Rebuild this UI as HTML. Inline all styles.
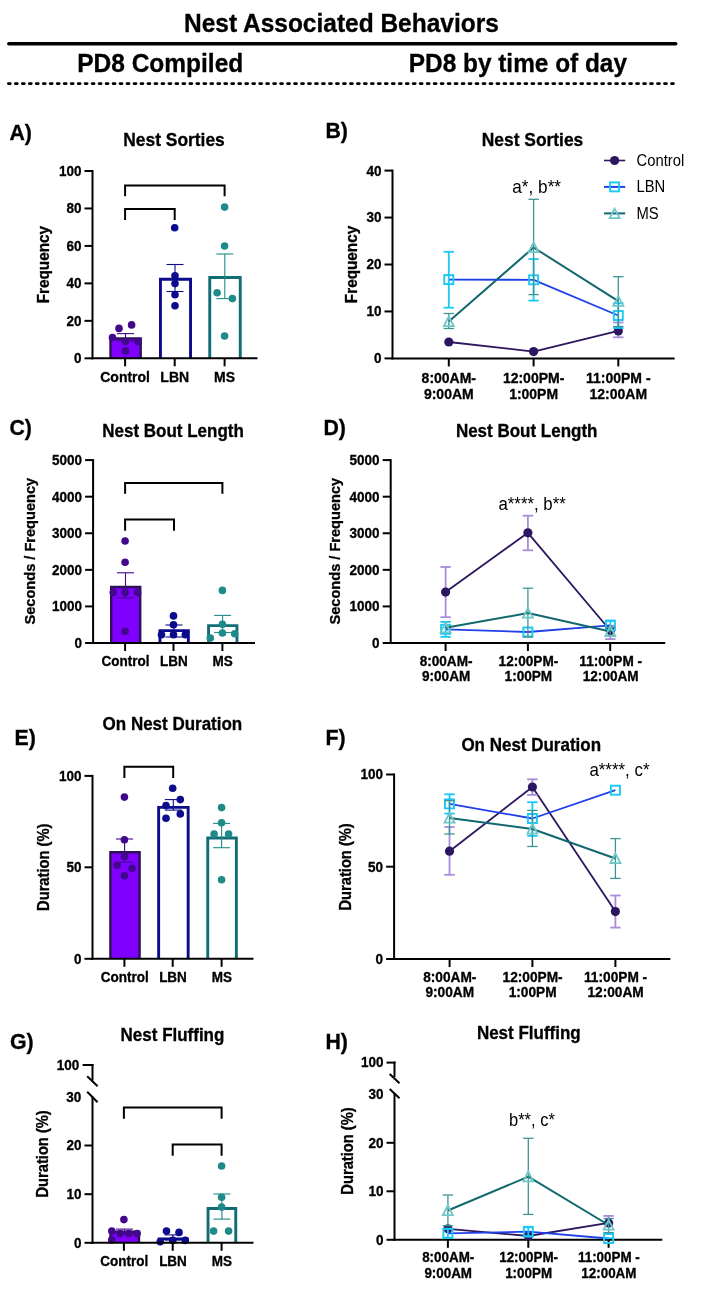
<!DOCTYPE html><html><head><meta charset="utf-8"><style>html,body{margin:0;padding:0;background:#fff;width:718px;height:1294px;overflow:hidden}svg{display:block;will-change:transform}text{font-family:"Liberation Sans",sans-serif}.b{stroke:#000;stroke-width:0.3px}</style></head><body>
<svg width="718" height="1294" viewBox="0 0 718 1294">
<rect width="718" height="1294" fill="#fff"/>
<text class="b" transform="translate(184,31.8) scale(1,1.06)" font-size="24.5" font-weight="bold" text-anchor="start" fill="#000" >Nest Associated Behaviors</text>
<line x1="8.8" y1="43.8" x2="675.7" y2="43.8" stroke="#000" stroke-width="3.5" stroke-linecap="round"/>
<text class="b" transform="translate(77.2,72.1) scale(1,1.06)" font-size="24.5" font-weight="bold" text-anchor="start" fill="#000" >PD8 Compiled</text>
<text class="b" transform="translate(408.8,72.1) scale(1,1.06)" font-size="24.4" font-weight="bold" text-anchor="start" fill="#000" >PD8 by time of day</text>
<line x1="8.3" y1="83.6" x2="676" y2="83.6" stroke="#000" stroke-width="2.6" stroke-linecap="round" stroke-dasharray="2.1 4.88"/>
<text class="b" transform="translate(9.4,139.7) scale(1,1.06)" font-size="21.3" font-weight="bold" text-anchor="start" fill="#000" >A)</text>
<text class="b" transform="translate(325.40000000000003,138) scale(1,1.06)" font-size="21.3" font-weight="bold" text-anchor="start" fill="#000" >B)</text>
<text class="b" transform="translate(9.399999999999999,434.7) scale(1,1.06)" font-size="21.3" font-weight="bold" text-anchor="start" fill="#000" >C)</text>
<text class="b" transform="translate(323.40000000000003,434.5) scale(1,1.06)" font-size="21.3" font-weight="bold" text-anchor="start" fill="#000" >D)</text>
<text class="b" transform="translate(14.5,745.4) scale(1,1.06)" font-size="21.3" font-weight="bold" text-anchor="start" fill="#000" >E)</text>
<text class="b" transform="translate(325.40000000000003,745.4) scale(1,1.06)" font-size="21.3" font-weight="bold" text-anchor="start" fill="#000" >F)</text>
<text class="b" transform="translate(10.0,1049.4) scale(1,1.06)" font-size="21.3" font-weight="bold" text-anchor="start" fill="#000" >G)</text>
<text class="b" transform="translate(325.40000000000003,1049.2) scale(1,1.06)" font-size="21.3" font-weight="bold" text-anchor="start" fill="#000" >H)</text>
<text class="b" transform="translate(123.3,146.4) scale(1,1.06)" font-size="17.4" font-weight="bold" text-anchor="start" fill="#000" >Nest Sorties</text>
<text class="b" transform="translate(481.8,145.8) scale(1,1.06)" font-size="17.4" font-weight="bold" text-anchor="start" fill="#000" >Nest Sorties</text>
<text class="b" transform="translate(102.3,436.8) scale(1,1.06)" font-size="17" font-weight="bold" text-anchor="start" fill="#000" >Nest Bout Length</text>
<text class="b" transform="translate(455.90000000000003,436.8) scale(1,1.06)" font-size="17" font-weight="bold" text-anchor="start" fill="#000" >Nest Bout Length</text>
<text class="b" transform="translate(102.6,730) scale(1,1.06)" font-size="17" font-weight="bold" text-anchor="start" fill="#000" >On Nest Duration</text>
<text class="b" transform="translate(461.40000000000003,751.2) scale(1,1.06)" font-size="17" font-weight="bold" text-anchor="start" fill="#000" >On Nest Duration</text>
<text class="b" transform="translate(120.6,1040.5) scale(1,1.06)" font-size="17" font-weight="bold" text-anchor="start" fill="#000" >Nest Fluffing</text>
<text class="b" transform="translate(476.90000000000003,1038.5) scale(1,1.06)" font-size="17" font-weight="bold" text-anchor="start" fill="#000" >Nest Fluffing</text>
<text class="b" transform="translate(48.6,264.6) rotate(-90) scale(1,1.06)" font-size="15.3" font-weight="bold" text-anchor="middle">Frequency</text>
<text class="b" transform="translate(357.1,264.5) rotate(-90) scale(1,1.06)" font-size="15.3" font-weight="bold" text-anchor="middle">Frequency</text>
<text class="b" transform="translate(35,551.2) rotate(-90) scale(1,1.06)" font-size="14.6" font-weight="bold" text-anchor="middle">Seconds / Frequency</text>
<text class="b" transform="translate(340,551.2) rotate(-90) scale(1,1.06)" font-size="14.6" font-weight="bold" text-anchor="middle">Seconds / Frequency</text>
<text class="b" transform="translate(49,867.3) rotate(-90) scale(1,1.06)" font-size="14.7" font-weight="bold" text-anchor="middle">Duration (%)</text>
<text class="b" transform="translate(351.4,866.9) rotate(-90) scale(1,1.06)" font-size="14.7" font-weight="bold" text-anchor="middle">Duration (%)</text>
<text class="b" transform="translate(48,1153.9) rotate(-90) scale(1,1.06)" font-size="14.7" font-weight="bold" text-anchor="middle">Duration (%)</text>
<text class="b" transform="translate(352.9,1151) rotate(-90) scale(1,1.06)" font-size="14.7" font-weight="bold" text-anchor="middle">Duration (%)</text>
<rect x="110.5" y="338.5" width="30.20000000000001" height="19.8" fill="#7F00FF"/>
<polyline points="110.5,358.3 110.5,338.5 140.70000000000002,338.5 140.70000000000002,358.3" fill="none" stroke="#2E1258" stroke-width="2.4" stroke-linejoin="miter"/>
<polyline points="160.45,358.3 160.45,279.25 190.55,279.25 190.55,358.3" fill="none" stroke="#0B0B8C" stroke-width="2.9" stroke-linejoin="miter"/>
<polyline points="209.75,358.3 209.75,277.45 240.25,277.45 240.25,358.3" fill="none" stroke="#106D75" stroke-width="2.9" stroke-linejoin="miter"/>
<line x1="125.5" y1="333.6" x2="125.5" y2="340.9" stroke="#42078A" stroke-width="1.1" stroke-linecap="butt"/>
<line x1="117.0" y1="333.6" x2="134.0" y2="333.6" stroke="#42078A" stroke-width="1.1" stroke-linecap="butt"/>
<line x1="117.0" y1="340.9" x2="134.0" y2="340.9" stroke="#42078A" stroke-width="1.1" stroke-linecap="butt"/>
<line x1="175" y1="264.5" x2="175" y2="291.5" stroke="#0B0B8C" stroke-width="1.1" stroke-linecap="butt"/>
<line x1="166.5" y1="264.5" x2="183.5" y2="264.5" stroke="#0B0B8C" stroke-width="1.1" stroke-linecap="butt"/>
<line x1="166.5" y1="291.5" x2="183.5" y2="291.5" stroke="#0B0B8C" stroke-width="1.1" stroke-linecap="butt"/>
<line x1="224.8" y1="254" x2="224.8" y2="298.6" stroke="#1E8A89" stroke-width="1.1" stroke-linecap="butt"/>
<line x1="216.3" y1="254" x2="233.3" y2="254" stroke="#1E8A89" stroke-width="1.1" stroke-linecap="butt"/>
<line x1="216.3" y1="298.6" x2="233.3" y2="298.6" stroke="#1E8A89" stroke-width="1.1" stroke-linecap="butt"/>
<circle cx="119.0" cy="328.4" r="3.8" fill="#42078A"/>
<circle cx="131.6" cy="324.9" r="3.8" fill="#42078A"/>
<circle cx="112.5" cy="337.6" r="3.8" fill="#42078A"/>
<circle cx="125.5" cy="341.6" r="3.8" fill="#42078A"/>
<circle cx="138" cy="341.6" r="3.8" fill="#42078A"/>
<circle cx="125.5" cy="350.9" r="3.8" fill="#42078A"/>
<circle cx="174.7" cy="227.7" r="3.8" fill="#0B0B8C"/>
<circle cx="175" cy="275.8" r="3.8" fill="#0B0B8C"/>
<circle cx="175" cy="283.6" r="3.8" fill="#0B0B8C"/>
<circle cx="175" cy="294.8" r="3.8" fill="#0B0B8C"/>
<circle cx="175" cy="305.7" r="3.8" fill="#0B0B8C"/>
<circle cx="224.6" cy="207.1" r="3.8" fill="#1E8A89"/>
<circle cx="224.6" cy="246" r="3.8" fill="#1E8A89"/>
<circle cx="217.1" cy="292.8" r="3.8" fill="#1E8A89"/>
<circle cx="232.4" cy="298.6" r="3.8" fill="#1E8A89"/>
<circle cx="224.6" cy="336" r="3.8" fill="#1E8A89"/>
<line x1="92.5" y1="170" x2="92.5" y2="359.3" stroke="#000" stroke-width="2" stroke-linecap="butt"/>
<line x1="84.5" y1="358.3" x2="92.5" y2="358.3" stroke="#000" stroke-width="2" stroke-linecap="butt"/>
<text class="b" transform="translate(81.4,363.2) scale(1,1.06)" font-size="13.5" font-weight="bold" text-anchor="end" fill="#000" >0</text>
<line x1="84.5" y1="320.84000000000003" x2="92.5" y2="320.84000000000003" stroke="#000" stroke-width="2" stroke-linecap="butt"/>
<text class="b" transform="translate(81.4,325.74) scale(1,1.06)" font-size="13.5" font-weight="bold" text-anchor="end" fill="#000" >20</text>
<line x1="84.5" y1="283.38" x2="92.5" y2="283.38" stroke="#000" stroke-width="2" stroke-linecap="butt"/>
<text class="b" transform="translate(81.4,288.28) scale(1,1.06)" font-size="13.5" font-weight="bold" text-anchor="end" fill="#000" >40</text>
<line x1="84.5" y1="245.92000000000002" x2="92.5" y2="245.92000000000002" stroke="#000" stroke-width="2" stroke-linecap="butt"/>
<text class="b" transform="translate(81.4,250.82000000000002) scale(1,1.06)" font-size="13.5" font-weight="bold" text-anchor="end" fill="#000" >60</text>
<line x1="84.5" y1="208.46" x2="92.5" y2="208.46" stroke="#000" stroke-width="2" stroke-linecap="butt"/>
<text class="b" transform="translate(81.4,213.36) scale(1,1.06)" font-size="13.5" font-weight="bold" text-anchor="end" fill="#000" >80</text>
<line x1="84.5" y1="171.0" x2="92.5" y2="171.0" stroke="#000" stroke-width="2" stroke-linecap="butt"/>
<text class="b" transform="translate(81.4,175.9) scale(1,1.06)" font-size="13.5" font-weight="bold" text-anchor="end" fill="#000" >100</text>
<line x1="91.5" y1="358.3" x2="257.5" y2="358.3" stroke="#000" stroke-width="2" stroke-linecap="butt"/>
<line x1="125.1" y1="358.3" x2="125.1" y2="366.3" stroke="#000" stroke-width="2" stroke-linecap="butt"/>
<line x1="174.7" y1="358.3" x2="174.7" y2="366.3" stroke="#000" stroke-width="2" stroke-linecap="butt"/>
<line x1="224.6" y1="358.3" x2="224.6" y2="366.3" stroke="#000" stroke-width="2" stroke-linecap="butt"/>
<text class="b" transform="translate(125.1,382.2) scale(1,1.06)" font-size="14" font-weight="bold" text-anchor="middle" fill="#000" >Control</text>
<text class="b" transform="translate(174.7,382.2) scale(1,1.06)" font-size="14" font-weight="bold" text-anchor="middle" fill="#000" >LBN</text>
<text class="b" transform="translate(224.6,382.2) scale(1,1.06)" font-size="14" font-weight="bold" text-anchor="middle" fill="#000" >MS</text>
<polyline points="125.1,196.3 125.1,185.5 224.6,185.5 224.6,196.3" fill="none" stroke="#000" stroke-width="2" stroke-linejoin="miter"/>
<polyline points="125.1,220.1 125.1,208.9 174.7,208.9 174.7,220.1" fill="none" stroke="#000" stroke-width="2" stroke-linejoin="miter"/>
<rect x="111.2" y="587.0" width="29.000000000000007" height="56.00000000000004" fill="#7F00FF"/>
<polyline points="111.2,643 111.2,587.0 140.20000000000002,587.0 140.20000000000002,643" fill="none" stroke="#2E1258" stroke-width="2.4" stroke-linejoin="miter"/>
<polyline points="159.95,643 159.95,630.6500000000001 188.35000000000002,630.6500000000001 188.35000000000002,643" fill="none" stroke="#0B0B8C" stroke-width="2.9" stroke-linejoin="miter"/>
<polyline points="208.54999999999998,643 208.54999999999998,625.6500000000001 236.95000000000002,625.6500000000001 236.95000000000002,643" fill="none" stroke="#106D75" stroke-width="2.9" stroke-linejoin="miter"/>
<line x1="125.5" y1="572.8" x2="125.5" y2="597.9" stroke="#42078A" stroke-width="1.1" stroke-linecap="butt"/>
<line x1="117.0" y1="572.8" x2="134.0" y2="572.8" stroke="#42078A" stroke-width="1.1" stroke-linecap="butt"/>
<line x1="117.0" y1="597.9" x2="134.0" y2="597.9" stroke="#42078A" stroke-width="1.1" stroke-linecap="butt"/>
<line x1="174" y1="625" x2="174" y2="637" stroke="#0B0B8C" stroke-width="1.1" stroke-linecap="butt"/>
<line x1="165.5" y1="625" x2="182.5" y2="625" stroke="#0B0B8C" stroke-width="1.1" stroke-linecap="butt"/>
<line x1="165.5" y1="637" x2="182.5" y2="637" stroke="#0B0B8C" stroke-width="1.1" stroke-linecap="butt"/>
<line x1="222.6" y1="615.4" x2="222.6" y2="632.5" stroke="#1E8A89" stroke-width="1.1" stroke-linecap="butt"/>
<line x1="214.1" y1="615.4" x2="231.1" y2="615.4" stroke="#1E8A89" stroke-width="1.1" stroke-linecap="butt"/>
<line x1="214.1" y1="632.5" x2="231.1" y2="632.5" stroke="#1E8A89" stroke-width="1.1" stroke-linecap="butt"/>
<circle cx="125.1" cy="541" r="3.8" fill="#42078A"/>
<circle cx="125.1" cy="562.3" r="3.8" fill="#42078A"/>
<circle cx="113.3" cy="592.4" r="3.8" fill="#42078A"/>
<circle cx="125.1" cy="592.4" r="3.8" fill="#42078A"/>
<circle cx="137.6" cy="592.4" r="3.8" fill="#42078A"/>
<circle cx="125.1" cy="631.2" r="3.8" fill="#42078A"/>
<circle cx="173.5" cy="615.9" r="3.8" fill="#0B0B8C"/>
<circle cx="173.5" cy="624.7" r="3.8" fill="#0B0B8C"/>
<circle cx="161.5" cy="634.7" r="3.8" fill="#0B0B8C"/>
<circle cx="173.5" cy="634.7" r="3.8" fill="#0B0B8C"/>
<circle cx="185.3" cy="634.7" r="3.8" fill="#0B0B8C"/>
<circle cx="222.4" cy="590.4" r="3.8" fill="#1E8A89"/>
<circle cx="222.4" cy="624.2" r="3.8" fill="#1E8A89"/>
<circle cx="210.3" cy="638" r="3.8" fill="#1E8A89"/>
<circle cx="222.4" cy="633" r="3.8" fill="#1E8A89"/>
<circle cx="234.7" cy="633.7" r="3.8" fill="#1E8A89"/>
<line x1="93.1" y1="459.1" x2="93.1" y2="644" stroke="#000" stroke-width="2" stroke-linecap="butt"/>
<line x1="85.1" y1="643.0" x2="93.1" y2="643.0" stroke="#000" stroke-width="2" stroke-linecap="butt"/>
<text class="b" transform="translate(82.0,647.9) scale(1,1.06)" font-size="13.5" font-weight="bold" text-anchor="end" fill="#000" >0</text>
<line x1="85.1" y1="606.42" x2="93.1" y2="606.42" stroke="#000" stroke-width="2" stroke-linecap="butt"/>
<text class="b" transform="translate(82.0,611.3199999999999) scale(1,1.06)" font-size="13.5" font-weight="bold" text-anchor="end" fill="#000" >1000</text>
<line x1="85.1" y1="569.84" x2="93.1" y2="569.84" stroke="#000" stroke-width="2" stroke-linecap="butt"/>
<text class="b" transform="translate(82.0,574.74) scale(1,1.06)" font-size="13.5" font-weight="bold" text-anchor="end" fill="#000" >2000</text>
<line x1="85.1" y1="533.26" x2="93.1" y2="533.26" stroke="#000" stroke-width="2" stroke-linecap="butt"/>
<text class="b" transform="translate(82.0,538.16) scale(1,1.06)" font-size="13.5" font-weight="bold" text-anchor="end" fill="#000" >3000</text>
<line x1="85.1" y1="496.68" x2="93.1" y2="496.68" stroke="#000" stroke-width="2" stroke-linecap="butt"/>
<text class="b" transform="translate(82.0,501.58) scale(1,1.06)" font-size="13.5" font-weight="bold" text-anchor="end" fill="#000" >4000</text>
<line x1="85.1" y1="460.1" x2="93.1" y2="460.1" stroke="#000" stroke-width="2" stroke-linecap="butt"/>
<text class="b" transform="translate(82.0,465.0) scale(1,1.06)" font-size="13.5" font-weight="bold" text-anchor="end" fill="#000" >5000</text>
<line x1="92.1" y1="643" x2="255" y2="643" stroke="#000" stroke-width="2" stroke-linecap="butt"/>
<line x1="125.1" y1="643" x2="125.1" y2="651" stroke="#000" stroke-width="2" stroke-linecap="butt"/>
<line x1="173.5" y1="643" x2="173.5" y2="651" stroke="#000" stroke-width="2" stroke-linecap="butt"/>
<line x1="222.4" y1="643" x2="222.4" y2="651" stroke="#000" stroke-width="2" stroke-linecap="butt"/>
<text class="b" transform="translate(125.39999999999999,666) scale(1,1.06)" font-size="13.5" font-weight="bold" text-anchor="middle" fill="#000" >Control</text>
<text class="b" transform="translate(173.8,666) scale(1,1.06)" font-size="13.5" font-weight="bold" text-anchor="middle" fill="#000" >LBN</text>
<text class="b" transform="translate(222.70000000000002,666) scale(1,1.06)" font-size="13.5" font-weight="bold" text-anchor="middle" fill="#000" >MS</text>
<polyline points="125.1,493.8 125.1,483.1 222.4,483.1 222.4,493.8" fill="none" stroke="#000" stroke-width="2" stroke-linejoin="miter"/>
<polyline points="125.1,530.7 125.1,519.4 174,519.4 174,530.7" fill="none" stroke="#000" stroke-width="2" stroke-linejoin="miter"/>
<rect x="110.4" y="852.2" width="29.20000000000001" height="106.59999999999995" fill="#7F00FF"/>
<polyline points="110.4,958.8 110.4,852.2 139.60000000000002,852.2 139.60000000000002,958.8" fill="none" stroke="#2E1258" stroke-width="2.4" stroke-linejoin="miter"/>
<polyline points="158.64999999999998,958.8 158.64999999999998,807.35 188.15,807.35 188.15,958.8" fill="none" stroke="#0B0B8C" stroke-width="2.9" stroke-linejoin="miter"/>
<polyline points="207.75,958.8 207.75,837.95 236.35000000000002,837.95 236.35000000000002,958.8" fill="none" stroke="#106D75" stroke-width="2.9" stroke-linejoin="miter"/>
<line x1="124.6" y1="839" x2="124.6" y2="862.3" stroke="#42078A" stroke-width="1.1" stroke-linecap="butt"/>
<line x1="116.1" y1="839" x2="133.1" y2="839" stroke="#42078A" stroke-width="1.1" stroke-linecap="butt"/>
<line x1="116.1" y1="862.3" x2="133.1" y2="862.3" stroke="#42078A" stroke-width="1.1" stroke-linecap="butt"/>
<line x1="173.3" y1="799.6" x2="173.3" y2="810.1" stroke="#0B0B8C" stroke-width="1.1" stroke-linecap="butt"/>
<line x1="164.8" y1="799.6" x2="181.8" y2="799.6" stroke="#0B0B8C" stroke-width="1.1" stroke-linecap="butt"/>
<line x1="164.8" y1="810.1" x2="181.8" y2="810.1" stroke="#0B0B8C" stroke-width="1.1" stroke-linecap="butt"/>
<line x1="221.6" y1="823.4" x2="221.6" y2="847.7" stroke="#1E8A89" stroke-width="1.1" stroke-linecap="butt"/>
<line x1="213.1" y1="823.4" x2="230.1" y2="823.4" stroke="#1E8A89" stroke-width="1.1" stroke-linecap="butt"/>
<line x1="213.1" y1="847.7" x2="230.1" y2="847.7" stroke="#1E8A89" stroke-width="1.1" stroke-linecap="butt"/>
<circle cx="124.4" cy="797.1" r="3.8" fill="#42078A"/>
<circle cx="124.4" cy="839.7" r="3.8" fill="#42078A"/>
<circle cx="124.4" cy="856.5" r="3.8" fill="#42078A"/>
<circle cx="117.1" cy="865.3" r="3.8" fill="#42078A"/>
<circle cx="132.1" cy="868.3" r="3.8" fill="#42078A"/>
<circle cx="124.4" cy="875.8" r="3.8" fill="#42078A"/>
<circle cx="172.7" cy="788.3" r="3.8" fill="#0B0B8C"/>
<circle cx="166" cy="805.6" r="3.8" fill="#0B0B8C"/>
<circle cx="180.3" cy="799.6" r="3.8" fill="#0B0B8C"/>
<circle cx="166" cy="818.2" r="3.8" fill="#0B0B8C"/>
<circle cx="180.3" cy="813.9" r="3.8" fill="#0B0B8C"/>
<circle cx="221.6" cy="807.6" r="3.8" fill="#1E8A89"/>
<circle cx="221.6" cy="822.7" r="3.8" fill="#1E8A89"/>
<circle cx="214.1" cy="834" r="3.8" fill="#1E8A89"/>
<circle cx="228.6" cy="834" r="3.8" fill="#1E8A89"/>
<circle cx="221.6" cy="879.8" r="3.8" fill="#1E8A89"/>
<line x1="92.5" y1="774.9" x2="92.5" y2="959.8" stroke="#000" stroke-width="2" stroke-linecap="butt"/>
<line x1="84.5" y1="958.8" x2="92.5" y2="958.8" stroke="#000" stroke-width="2" stroke-linecap="butt"/>
<text class="b" transform="translate(81.4,963.6999999999999) scale(1,1.06)" font-size="13.5" font-weight="bold" text-anchor="end" fill="#000" >0</text>
<line x1="84.5" y1="867.3" x2="92.5" y2="867.3" stroke="#000" stroke-width="2" stroke-linecap="butt"/>
<text class="b" transform="translate(81.4,872.1999999999999) scale(1,1.06)" font-size="13.5" font-weight="bold" text-anchor="end" fill="#000" >50</text>
<line x1="84.5" y1="775.9" x2="92.5" y2="775.9" stroke="#000" stroke-width="2" stroke-linecap="butt"/>
<text class="b" transform="translate(81.4,780.8) scale(1,1.06)" font-size="13.5" font-weight="bold" text-anchor="end" fill="#000" >100</text>
<line x1="91.5" y1="958.8" x2="253.5" y2="958.8" stroke="#000" stroke-width="2" stroke-linecap="butt"/>
<line x1="124.4" y1="958.8" x2="124.4" y2="966.8" stroke="#000" stroke-width="2" stroke-linecap="butt"/>
<line x1="172.7" y1="958.8" x2="172.7" y2="966.8" stroke="#000" stroke-width="2" stroke-linecap="butt"/>
<line x1="221.6" y1="958.8" x2="221.6" y2="966.8" stroke="#000" stroke-width="2" stroke-linecap="butt"/>
<text class="b" transform="translate(124.7,981.8) scale(1,1.06)" font-size="13.5" font-weight="bold" text-anchor="middle" fill="#000" >Control</text>
<text class="b" transform="translate(173.0,981.8) scale(1,1.06)" font-size="13.5" font-weight="bold" text-anchor="middle" fill="#000" >LBN</text>
<text class="b" transform="translate(221.9,981.8) scale(1,1.06)" font-size="13.5" font-weight="bold" text-anchor="middle" fill="#000" >MS</text>
<polyline points="124.4,778 124.4,766.8 173.2,766.8 173.2,778" fill="none" stroke="#000" stroke-width="2" stroke-linejoin="miter"/>
<rect x="110.5" y="1231.6000000000001" width="28.499999999999993" height="11.199999999999864" fill="#7F00FF"/>
<polyline points="110.5,1242.8 110.5,1231.6000000000001 139.0,1231.6000000000001 139.0,1242.8" fill="none" stroke="#2E1258" stroke-width="2.4" stroke-linejoin="miter"/>
<polyline points="159.14999999999998,1242.8 159.14999999999998,1238.8500000000001 187.05,1238.8500000000001 187.05,1242.8" fill="none" stroke="#0B0B8C" stroke-width="2.9" stroke-linejoin="miter"/>
<polyline points="208.04999999999998,1242.8 208.04999999999998,1208.55 235.75,1208.55 235.75,1242.8" fill="none" stroke="#106D75" stroke-width="2.9" stroke-linejoin="miter"/>
<line x1="124.5" y1="1229.1" x2="124.5" y2="1234" stroke="#42078A" stroke-width="1.1" stroke-linecap="butt"/>
<line x1="116.0" y1="1229.1" x2="133.0" y2="1229.1" stroke="#42078A" stroke-width="1.1" stroke-linecap="butt"/>
<line x1="116.0" y1="1234" x2="133.0" y2="1234" stroke="#42078A" stroke-width="1.1" stroke-linecap="butt"/>
<line x1="173" y1="1234.9" x2="173" y2="1240" stroke="#0B0B8C" stroke-width="1.1" stroke-linecap="butt"/>
<line x1="164.5" y1="1234.9" x2="181.5" y2="1234.9" stroke="#0B0B8C" stroke-width="1.1" stroke-linecap="butt"/>
<line x1="164.5" y1="1240" x2="181.5" y2="1240" stroke="#0B0B8C" stroke-width="1.1" stroke-linecap="butt"/>
<line x1="221.9" y1="1194" x2="221.9" y2="1219.1" stroke="#1E8A89" stroke-width="1.1" stroke-linecap="butt"/>
<line x1="213.4" y1="1194" x2="230.4" y2="1194" stroke="#1E8A89" stroke-width="1.1" stroke-linecap="butt"/>
<line x1="213.4" y1="1219.1" x2="230.4" y2="1219.1" stroke="#1E8A89" stroke-width="1.1" stroke-linecap="butt"/>
<circle cx="123.9" cy="1219.6" r="3.8" fill="#42078A"/>
<circle cx="111.8" cy="1231.1" r="3.8" fill="#42078A"/>
<circle cx="120.1" cy="1233.6" r="3.8" fill="#42078A"/>
<circle cx="128.9" cy="1233.6" r="3.8" fill="#42078A"/>
<circle cx="137.1" cy="1233.6" r="3.8" fill="#42078A"/>
<circle cx="111.8" cy="1239.9" r="3.8" fill="#42078A"/>
<circle cx="166.5" cy="1231.1" r="3.8" fill="#0B0B8C"/>
<circle cx="179" cy="1232.4" r="3.8" fill="#0B0B8C"/>
<circle cx="160.2" cy="1241.7" r="3.8" fill="#0B0B8C"/>
<circle cx="172.7" cy="1240.4" r="3.8" fill="#0B0B8C"/>
<circle cx="185.3" cy="1240.4" r="3.8" fill="#0B0B8C"/>
<circle cx="221.6" cy="1166" r="3.8" fill="#1E8A89"/>
<circle cx="221.6" cy="1197.3" r="3.8" fill="#1E8A89"/>
<circle cx="221.6" cy="1207.1" r="3.8" fill="#1E8A89"/>
<circle cx="213.6" cy="1231.1" r="3.8" fill="#1E8A89"/>
<circle cx="228.6" cy="1231.1" r="3.8" fill="#1E8A89"/>
<line x1="92.5" y1="1096.6" x2="92.5" y2="1243.8" stroke="#000" stroke-width="2" stroke-linecap="butt"/>
<line x1="84.5" y1="1242.8" x2="92.5" y2="1242.8" stroke="#000" stroke-width="2" stroke-linecap="butt"/>
<text class="b" transform="translate(81.4,1247.7) scale(1,1.06)" font-size="13.5" font-weight="bold" text-anchor="end" fill="#000" >0</text>
<line x1="84.5" y1="1194.2" x2="92.5" y2="1194.2" stroke="#000" stroke-width="2" stroke-linecap="butt"/>
<text class="b" transform="translate(81.4,1199.1000000000001) scale(1,1.06)" font-size="13.5" font-weight="bold" text-anchor="end" fill="#000" >10</text>
<line x1="84.5" y1="1145.5" x2="92.5" y2="1145.5" stroke="#000" stroke-width="2" stroke-linecap="butt"/>
<text class="b" transform="translate(81.4,1150.4) scale(1,1.06)" font-size="13.5" font-weight="bold" text-anchor="end" fill="#000" >20</text>
<line x1="91.5" y1="1242.8" x2="253.5" y2="1242.8" stroke="#000" stroke-width="2" stroke-linecap="butt"/>
<line x1="123.9" y1="1242.8" x2="123.9" y2="1250.8" stroke="#000" stroke-width="2" stroke-linecap="butt"/>
<line x1="172.7" y1="1242.8" x2="172.7" y2="1250.8" stroke="#000" stroke-width="2" stroke-linecap="butt"/>
<line x1="221.6" y1="1242.8" x2="221.6" y2="1250.8" stroke="#000" stroke-width="2" stroke-linecap="butt"/>
<text class="b" transform="translate(124.2,1266) scale(1,1.06)" font-size="13.5" font-weight="bold" text-anchor="middle" fill="#000" >Control</text>
<text class="b" transform="translate(173.0,1266) scale(1,1.06)" font-size="13.5" font-weight="bold" text-anchor="middle" fill="#000" >LBN</text>
<text class="b" transform="translate(221.9,1266) scale(1,1.06)" font-size="13.5" font-weight="bold" text-anchor="middle" fill="#000" >MS</text>
<polyline points="123.9,1118.8 123.9,1107.5 221.6,1107.5 221.6,1118.8" fill="none" stroke="#000" stroke-width="2" stroke-linejoin="miter"/>
<polyline points="172.7,1155.7 172.7,1144.4 221.6,1144.4 221.6,1155.7" fill="none" stroke="#000" stroke-width="2" stroke-linejoin="miter"/>
<line x1="92.5" y1="1064.1" x2="92.5" y2="1080.5" stroke="#000" stroke-width="2" stroke-linecap="butt"/>
<line x1="82.6" y1="1065" x2="93.5" y2="1065" stroke="#000" stroke-width="2" stroke-linecap="butt"/>
<text class="b" transform="translate(79.2,1070.2) scale(1,1.06)" font-size="13.5" font-weight="bold" text-anchor="end" fill="#000" >100</text>
<text class="b" transform="translate(81.3,1102.4) scale(1,1.06)" font-size="13.5" font-weight="bold" text-anchor="end" fill="#000" >30</text>
<line x1="87.2" y1="1076.3" x2="97.6" y2="1086.3" stroke="#000" stroke-width="2" stroke-linecap="butt"/>
<line x1="87.2" y1="1091.8" x2="97.6" y2="1102.2" stroke="#000" stroke-width="2" stroke-linecap="butt"/>
<line x1="392.5" y1="169.6" x2="392.5" y2="359.4" stroke="#000" stroke-width="2" stroke-linecap="butt"/>
<line x1="384.5" y1="358.4" x2="392.5" y2="358.4" stroke="#000" stroke-width="2" stroke-linecap="butt"/>
<text class="b" transform="translate(381.4,363.29999999999995) scale(1,1.06)" font-size="13.5" font-weight="bold" text-anchor="end" fill="#000" >0</text>
<line x1="384.5" y1="311.45" x2="392.5" y2="311.45" stroke="#000" stroke-width="2" stroke-linecap="butt"/>
<text class="b" transform="translate(381.4,316.34999999999997) scale(1,1.06)" font-size="13.5" font-weight="bold" text-anchor="end" fill="#000" >10</text>
<line x1="384.5" y1="264.5" x2="392.5" y2="264.5" stroke="#000" stroke-width="2" stroke-linecap="butt"/>
<text class="b" transform="translate(381.4,269.4) scale(1,1.06)" font-size="13.5" font-weight="bold" text-anchor="end" fill="#000" >20</text>
<line x1="384.5" y1="217.54999999999995" x2="392.5" y2="217.54999999999995" stroke="#000" stroke-width="2" stroke-linecap="butt"/>
<text class="b" transform="translate(381.4,222.44999999999996) scale(1,1.06)" font-size="13.5" font-weight="bold" text-anchor="end" fill="#000" >30</text>
<line x1="384.5" y1="170.59999999999997" x2="392.5" y2="170.59999999999997" stroke="#000" stroke-width="2" stroke-linecap="butt"/>
<text class="b" transform="translate(381.4,175.49999999999997) scale(1,1.06)" font-size="13.5" font-weight="bold" text-anchor="end" fill="#000" >40</text>
<line x1="391.5" y1="358.4" x2="674.6" y2="358.4" stroke="#000" stroke-width="2" stroke-linecap="butt"/>
<line x1="448.8" y1="358.4" x2="448.8" y2="366.4" stroke="#000" stroke-width="2" stroke-linecap="butt"/>
<line x1="533.6" y1="358.4" x2="533.6" y2="366.4" stroke="#000" stroke-width="2" stroke-linecap="butt"/>
<line x1="618.3" y1="358.4" x2="618.3" y2="366.4" stroke="#000" stroke-width="2" stroke-linecap="butt"/>
<text class="b" transform="translate(448.8,382.6) scale(1,1.06)" font-size="14" font-weight="bold" text-anchor="middle" fill="#000" >8:00AM-</text>
<text class="b" transform="translate(448.8,398.6) scale(1,1.06)" font-size="14" font-weight="bold" text-anchor="middle" fill="#000" >9:00AM</text>
<text class="b" transform="translate(533.6,382.6) scale(1,1.06)" font-size="14" font-weight="bold" text-anchor="middle" fill="#000" >12:00PM-</text>
<text class="b" transform="translate(533.6,398.6) scale(1,1.06)" font-size="14" font-weight="bold" text-anchor="middle" fill="#000" >1:00PM</text>
<text class="b" transform="translate(618.3,382.6) scale(1,1.06)" font-size="14" font-weight="bold" text-anchor="middle" fill="#000" >11:00PM -</text>
<text class="b" transform="translate(618.3,398.6) scale(1,1.06)" font-size="14" font-weight="bold" text-anchor="middle" fill="#000" >12:00AM</text>
<polyline points="448.8,342 533.6,351.6 618.3,330.9" fill="none" stroke="#2D1660" stroke-width="1.8" stroke-linejoin="round"/>
<line x1="618.3" y1="322.5" x2="618.3" y2="330.9" stroke="#A88BD9" stroke-width="1.8" stroke-linecap="butt"/>
<line x1="613.0999999999999" y1="322.5" x2="623.5" y2="322.5" stroke="#A88BD9" stroke-width="1.8" stroke-linecap="butt"/>
<line x1="618.3" y1="330.9" x2="618.3" y2="337.3" stroke="#A88BD9" stroke-width="1.8" stroke-linecap="butt"/>
<line x1="613.0999999999999" y1="337.3" x2="623.5" y2="337.3" stroke="#A88BD9" stroke-width="1.8" stroke-linecap="butt"/>
<circle cx="448.8" cy="342" r="4.6" fill="#2D1660"/>
<circle cx="533.6" cy="351.6" r="4.6" fill="#2D1660"/>
<circle cx="618.3" cy="330.9" r="4.6" fill="#2D1660"/>
<polyline points="448.8,279.6 533.6,279.8 618.3,315.5" fill="none" stroke="#1F40E8" stroke-width="1.8" stroke-linejoin="round"/>
<line x1="448.8" y1="251.8" x2="448.8" y2="279.6" stroke="#1AC8F6" stroke-width="1.8" stroke-linecap="butt"/>
<line x1="443.6" y1="251.8" x2="454.0" y2="251.8" stroke="#1AC8F6" stroke-width="1.8" stroke-linecap="butt"/>
<line x1="448.8" y1="279.6" x2="448.8" y2="307.7" stroke="#1AC8F6" stroke-width="1.8" stroke-linecap="butt"/>
<line x1="443.6" y1="307.7" x2="454.0" y2="307.7" stroke="#1AC8F6" stroke-width="1.8" stroke-linecap="butt"/>
<line x1="533.6" y1="259.1" x2="533.6" y2="279.8" stroke="#1AC8F6" stroke-width="1.8" stroke-linecap="butt"/>
<line x1="528.4" y1="259.1" x2="538.8000000000001" y2="259.1" stroke="#1AC8F6" stroke-width="1.8" stroke-linecap="butt"/>
<line x1="533.6" y1="279.8" x2="533.6" y2="300.6" stroke="#1AC8F6" stroke-width="1.8" stroke-linecap="butt"/>
<line x1="528.4" y1="300.6" x2="538.8000000000001" y2="300.6" stroke="#1AC8F6" stroke-width="1.8" stroke-linecap="butt"/>
<line x1="618.3" y1="303.2" x2="618.3" y2="315.5" stroke="#1AC8F6" stroke-width="1.8" stroke-linecap="butt"/>
<line x1="613.0999999999999" y1="303.2" x2="623.5" y2="303.2" stroke="#1AC8F6" stroke-width="1.8" stroke-linecap="butt"/>
<line x1="618.3" y1="315.5" x2="618.3" y2="328" stroke="#1AC8F6" stroke-width="1.8" stroke-linecap="butt"/>
<line x1="613.0999999999999" y1="328" x2="623.5" y2="328" stroke="#1AC8F6" stroke-width="1.8" stroke-linecap="butt"/>
<rect x="444.3" y="275.1" width="9.0" height="9.0" fill="none" stroke="#1AC8F6" stroke-width="1.9"/>
<rect x="529.1" y="275.3" width="9.0" height="9.0" fill="none" stroke="#1AC8F6" stroke-width="1.9"/>
<rect x="613.8" y="311.0" width="9.0" height="9.0" fill="none" stroke="#1AC8F6" stroke-width="1.9"/>
<polyline points="448.8,321.5 533.6,247.5 618.3,301.2" fill="none" stroke="#12686F" stroke-width="2" stroke-linejoin="round"/>
<line x1="448.8" y1="313.5" x2="448.8" y2="321.5" stroke="#3E9494" stroke-width="1.3" stroke-linecap="butt"/>
<line x1="443.6" y1="313.5" x2="454.0" y2="313.5" stroke="#3E9494" stroke-width="1.3" stroke-linecap="butt"/>
<line x1="448.8" y1="321.5" x2="448.8" y2="328.5" stroke="#3E9494" stroke-width="1.3" stroke-linecap="butt"/>
<line x1="443.6" y1="328.5" x2="454.0" y2="328.5" stroke="#3E9494" stroke-width="1.3" stroke-linecap="butt"/>
<line x1="533.6" y1="199.3" x2="533.6" y2="247.5" stroke="#3E9494" stroke-width="1.3" stroke-linecap="butt"/>
<line x1="528.4" y1="199.3" x2="538.8000000000001" y2="199.3" stroke="#3E9494" stroke-width="1.3" stroke-linecap="butt"/>
<line x1="533.6" y1="247.5" x2="533.6" y2="294.6" stroke="#3E9494" stroke-width="1.3" stroke-linecap="butt"/>
<line x1="528.4" y1="294.6" x2="538.8000000000001" y2="294.6" stroke="#3E9494" stroke-width="1.3" stroke-linecap="butt"/>
<line x1="618.3" y1="276.7" x2="618.3" y2="301.2" stroke="#3E9494" stroke-width="1.3" stroke-linecap="butt"/>
<line x1="613.0999999999999" y1="276.7" x2="623.5" y2="276.7" stroke="#3E9494" stroke-width="1.3" stroke-linecap="butt"/>
<line x1="618.3" y1="301.2" x2="618.3" y2="326.5" stroke="#3E9494" stroke-width="1.3" stroke-linecap="butt"/>
<line x1="613.0999999999999" y1="326.5" x2="623.5" y2="326.5" stroke="#3E9494" stroke-width="1.3" stroke-linecap="butt"/>
<polygon points="448.8,316.5 443.8,326.1 453.8,326.1" fill="none" stroke="#6EC6C6" stroke-width="1.8" stroke-linejoin="miter"/>
<polygon points="533.6,242.5 528.6,252.1 538.6,252.1" fill="none" stroke="#6EC6C6" stroke-width="1.8" stroke-linejoin="miter"/>
<polygon points="618.3,296.2 613.3,305.8 623.3,305.8" fill="none" stroke="#6EC6C6" stroke-width="1.8" stroke-linejoin="miter"/>
<text transform="translate(512.3,193.4) scale(1,1.06)" font-size="17.2" font-weight="normal" text-anchor="start" fill="#000" >a*, b**</text>
<line x1="604" y1="160.5" x2="625.2" y2="160.5" stroke="#2D1660" stroke-width="1.6" stroke-linecap="butt"/>
<circle cx="614.6" cy="160.5" r="4.6" fill="#2D1660"/>
<line x1="604" y1="186.9" x2="625.2" y2="186.9" stroke="#1F40E8" stroke-width="2" stroke-linecap="butt"/>
<rect x="610.1" y="182.4" width="9.0" height="9.0" fill="none" stroke="#1AC8F6" stroke-width="1.9"/>
<line x1="604" y1="213.4" x2="625.2" y2="213.4" stroke="#12686F" stroke-width="2" stroke-linecap="butt"/>
<polygon points="614.6,208.6 609.6,218.2 619.6,218.2" fill="none" stroke="#6EC6C6" stroke-width="1.8" stroke-linejoin="miter"/>
<text transform="translate(636.5,165.8) scale(1,1.06)" font-size="14.8" font-weight="normal" text-anchor="start" fill="#000" >Control</text>
<text transform="translate(636.5,192.1) scale(1,1.06)" font-size="14.8" font-weight="normal" text-anchor="start" fill="#000" >LBN</text>
<text transform="translate(636.5,218.5) scale(1,1.06)" font-size="14.8" font-weight="normal" text-anchor="start" fill="#000" >MS</text>
<line x1="390.7" y1="459.1" x2="390.7" y2="644" stroke="#000" stroke-width="2" stroke-linecap="butt"/>
<line x1="382.7" y1="643.0" x2="390.7" y2="643.0" stroke="#000" stroke-width="2" stroke-linecap="butt"/>
<text class="b" transform="translate(379.59999999999997,647.9) scale(1,1.06)" font-size="13.5" font-weight="bold" text-anchor="end" fill="#000" >0</text>
<line x1="382.7" y1="606.42" x2="390.7" y2="606.42" stroke="#000" stroke-width="2" stroke-linecap="butt"/>
<text class="b" transform="translate(379.59999999999997,611.3199999999999) scale(1,1.06)" font-size="13.5" font-weight="bold" text-anchor="end" fill="#000" >1000</text>
<line x1="382.7" y1="569.84" x2="390.7" y2="569.84" stroke="#000" stroke-width="2" stroke-linecap="butt"/>
<text class="b" transform="translate(379.59999999999997,574.74) scale(1,1.06)" font-size="13.5" font-weight="bold" text-anchor="end" fill="#000" >2000</text>
<line x1="382.7" y1="533.26" x2="390.7" y2="533.26" stroke="#000" stroke-width="2" stroke-linecap="butt"/>
<text class="b" transform="translate(379.59999999999997,538.16) scale(1,1.06)" font-size="13.5" font-weight="bold" text-anchor="end" fill="#000" >3000</text>
<line x1="382.7" y1="496.68" x2="390.7" y2="496.68" stroke="#000" stroke-width="2" stroke-linecap="butt"/>
<text class="b" transform="translate(379.59999999999997,501.58) scale(1,1.06)" font-size="13.5" font-weight="bold" text-anchor="end" fill="#000" >4000</text>
<line x1="382.7" y1="460.1" x2="390.7" y2="460.1" stroke="#000" stroke-width="2" stroke-linecap="butt"/>
<text class="b" transform="translate(379.59999999999997,465.0) scale(1,1.06)" font-size="13.5" font-weight="bold" text-anchor="end" fill="#000" >5000</text>
<line x1="389.7" y1="643" x2="665.2" y2="643" stroke="#000" stroke-width="2" stroke-linecap="butt"/>
<line x1="445.6" y1="643" x2="445.6" y2="651" stroke="#000" stroke-width="2" stroke-linecap="butt"/>
<line x1="527.9" y1="643" x2="527.9" y2="651" stroke="#000" stroke-width="2" stroke-linecap="butt"/>
<line x1="610.2" y1="643" x2="610.2" y2="651" stroke="#000" stroke-width="2" stroke-linecap="butt"/>
<text class="b" transform="translate(446.1,666) scale(1,1.06)" font-size="13.6" font-weight="bold" text-anchor="middle" fill="#000" >8:00AM-</text>
<text class="b" transform="translate(446.1,681.3) scale(1,1.06)" font-size="13.6" font-weight="bold" text-anchor="middle" fill="#000" >9:00AM</text>
<text class="b" transform="translate(528.4,666) scale(1,1.06)" font-size="13.6" font-weight="bold" text-anchor="middle" fill="#000" >12:00PM-</text>
<text class="b" transform="translate(528.4,681.3) scale(1,1.06)" font-size="13.6" font-weight="bold" text-anchor="middle" fill="#000" >1:00PM</text>
<text class="b" transform="translate(610.7,666) scale(1,1.06)" font-size="13.6" font-weight="bold" text-anchor="middle" fill="#000" >11:00PM -</text>
<text class="b" transform="translate(610.7,681.3) scale(1,1.06)" font-size="13.6" font-weight="bold" text-anchor="middle" fill="#000" >12:00AM</text>
<polyline points="445.6,592.1 527.9,532.8 610.3,630.5" fill="none" stroke="#2D1660" stroke-width="1.8" stroke-linejoin="round"/>
<line x1="445.6" y1="567" x2="445.6" y2="592.1" stroke="#A88BD9" stroke-width="1.8" stroke-linecap="butt"/>
<line x1="440.40000000000003" y1="567" x2="450.8" y2="567" stroke="#A88BD9" stroke-width="1.8" stroke-linecap="butt"/>
<line x1="445.6" y1="592.1" x2="445.6" y2="617.2" stroke="#A88BD9" stroke-width="1.8" stroke-linecap="butt"/>
<line x1="440.40000000000003" y1="617.2" x2="450.8" y2="617.2" stroke="#A88BD9" stroke-width="1.8" stroke-linecap="butt"/>
<line x1="527.9" y1="515.7" x2="527.9" y2="532.8" stroke="#A88BD9" stroke-width="1.8" stroke-linecap="butt"/>
<line x1="522.6999999999999" y1="515.7" x2="533.1" y2="515.7" stroke="#A88BD9" stroke-width="1.8" stroke-linecap="butt"/>
<line x1="527.9" y1="532.8" x2="527.9" y2="550.3" stroke="#A88BD9" stroke-width="1.8" stroke-linecap="butt"/>
<line x1="522.6999999999999" y1="550.3" x2="533.1" y2="550.3" stroke="#A88BD9" stroke-width="1.8" stroke-linecap="butt"/>
<line x1="610.3" y1="625.7" x2="610.3" y2="630.5" stroke="#A88BD9" stroke-width="1.8" stroke-linecap="butt"/>
<line x1="605.0999999999999" y1="625.7" x2="615.5" y2="625.7" stroke="#A88BD9" stroke-width="1.8" stroke-linecap="butt"/>
<line x1="610.3" y1="630.5" x2="610.3" y2="639.1" stroke="#A88BD9" stroke-width="1.8" stroke-linecap="butt"/>
<line x1="605.0999999999999" y1="639.1" x2="615.5" y2="639.1" stroke="#A88BD9" stroke-width="1.8" stroke-linecap="butt"/>
<circle cx="445.6" cy="592.1" r="4.6" fill="#2D1660"/>
<circle cx="527.9" cy="532.8" r="4.6" fill="#2D1660"/>
<circle cx="610.3" cy="630.5" r="4.6" fill="#2D1660"/>
<polyline points="445.6,629.3 527.9,632 610.4,625.4" fill="none" stroke="#1F40E8" stroke-width="1.8" stroke-linejoin="round"/>
<line x1="445.6" y1="621.9" x2="445.6" y2="629.3" stroke="#1AC8F6" stroke-width="1.8" stroke-linecap="butt"/>
<line x1="440.40000000000003" y1="621.9" x2="450.8" y2="621.9" stroke="#1AC8F6" stroke-width="1.8" stroke-linecap="butt"/>
<line x1="445.6" y1="629.3" x2="445.6" y2="636.9" stroke="#1AC8F6" stroke-width="1.8" stroke-linecap="butt"/>
<line x1="440.40000000000003" y1="636.9" x2="450.8" y2="636.9" stroke="#1AC8F6" stroke-width="1.8" stroke-linecap="butt"/>
<line x1="610.4" y1="620.5" x2="610.4" y2="625.4" stroke="#1AC8F6" stroke-width="1.8" stroke-linecap="butt"/>
<line x1="605.1999999999999" y1="620.5" x2="615.6" y2="620.5" stroke="#1AC8F6" stroke-width="1.8" stroke-linecap="butt"/>
<line x1="610.4" y1="625.4" x2="610.4" y2="630.2" stroke="#1AC8F6" stroke-width="1.8" stroke-linecap="butt"/>
<line x1="605.1999999999999" y1="630.2" x2="615.6" y2="630.2" stroke="#1AC8F6" stroke-width="1.8" stroke-linecap="butt"/>
<rect x="441.1" y="624.8" width="9.0" height="9.0" fill="none" stroke="#1AC8F6" stroke-width="1.9"/>
<rect x="523.4" y="627.5" width="9.0" height="9.0" fill="none" stroke="#1AC8F6" stroke-width="1.9"/>
<rect x="605.9" y="620.9" width="9.0" height="9.0" fill="none" stroke="#1AC8F6" stroke-width="1.9"/>
<polyline points="445.6,627.8 527.9,613.1 610.3,631.5" fill="none" stroke="#12686F" stroke-width="2" stroke-linejoin="round"/>
<line x1="527.9" y1="588.2" x2="527.9" y2="613.1" stroke="#3E9494" stroke-width="1.3" stroke-linecap="butt"/>
<line x1="522.6999999999999" y1="588.2" x2="533.1" y2="588.2" stroke="#3E9494" stroke-width="1.3" stroke-linecap="butt"/>
<line x1="527.9" y1="613.1" x2="527.9" y2="637" stroke="#3E9494" stroke-width="1.3" stroke-linecap="butt"/>
<line x1="522.6999999999999" y1="637" x2="533.1" y2="637" stroke="#3E9494" stroke-width="1.3" stroke-linecap="butt"/>
<line x1="610.3" y1="627.4" x2="610.3" y2="631.5" stroke="#3E9494" stroke-width="1.3" stroke-linecap="butt"/>
<line x1="605.0999999999999" y1="627.4" x2="615.5" y2="627.4" stroke="#3E9494" stroke-width="1.3" stroke-linecap="butt"/>
<line x1="610.3" y1="631.5" x2="610.3" y2="636" stroke="#3E9494" stroke-width="1.3" stroke-linecap="butt"/>
<line x1="605.0999999999999" y1="636" x2="615.5" y2="636" stroke="#3E9494" stroke-width="1.3" stroke-linecap="butt"/>
<polygon points="445.6,622.8 440.6,632.4 450.6,632.4" fill="none" stroke="#6EC6C6" stroke-width="1.8" stroke-linejoin="miter"/>
<polygon points="527.9,608.1 522.9,617.7 532.9,617.7" fill="none" stroke="#6EC6C6" stroke-width="1.8" stroke-linejoin="miter"/>
<polygon points="610.3,626.5 605.3,636.1 615.3,636.1" fill="none" stroke="#6EC6C6" stroke-width="1.8" stroke-linejoin="miter"/>
<text transform="translate(498.5,510.1) scale(1,1.06)" font-size="16.8" font-weight="normal" text-anchor="start" fill="#000" >a****, b**</text>
<line x1="394.1" y1="773.5" x2="394.1" y2="960" stroke="#000" stroke-width="2" stroke-linecap="butt"/>
<line x1="386.1" y1="959" x2="394.1" y2="959" stroke="#000" stroke-width="2" stroke-linecap="butt"/>
<text class="b" transform="translate(383.0,963.9) scale(1,1.06)" font-size="13.5" font-weight="bold" text-anchor="end" fill="#000" >0</text>
<line x1="386.1" y1="866.7" x2="394.1" y2="866.7" stroke="#000" stroke-width="2" stroke-linecap="butt"/>
<text class="b" transform="translate(383.0,871.6) scale(1,1.06)" font-size="13.5" font-weight="bold" text-anchor="end" fill="#000" >50</text>
<line x1="386.1" y1="774.5" x2="394.1" y2="774.5" stroke="#000" stroke-width="2" stroke-linecap="butt"/>
<text class="b" transform="translate(383.0,779.4) scale(1,1.06)" font-size="13.5" font-weight="bold" text-anchor="end" fill="#000" >100</text>
<line x1="393.1" y1="959" x2="670.3" y2="959" stroke="#000" stroke-width="2" stroke-linecap="butt"/>
<line x1="449.6" y1="959" x2="449.6" y2="967" stroke="#000" stroke-width="2" stroke-linecap="butt"/>
<line x1="532.4" y1="959" x2="532.4" y2="967" stroke="#000" stroke-width="2" stroke-linecap="butt"/>
<line x1="615.4" y1="959" x2="615.4" y2="967" stroke="#000" stroke-width="2" stroke-linecap="butt"/>
<text class="b" transform="translate(449.8,981.6) scale(1,1.06)" font-size="13.7" font-weight="bold" text-anchor="middle" fill="#000" >8:00AM-</text>
<text class="b" transform="translate(449.8,997.2) scale(1,1.06)" font-size="13.7" font-weight="bold" text-anchor="middle" fill="#000" >9:00AM</text>
<text class="b" transform="translate(532.6,981.6) scale(1,1.06)" font-size="13.7" font-weight="bold" text-anchor="middle" fill="#000" >12:00PM-</text>
<text class="b" transform="translate(532.6,997.2) scale(1,1.06)" font-size="13.7" font-weight="bold" text-anchor="middle" fill="#000" >1:00PM</text>
<text class="b" transform="translate(615.6,981.6) scale(1,1.06)" font-size="13.7" font-weight="bold" text-anchor="middle" fill="#000" >11:00PM -</text>
<text class="b" transform="translate(615.6,997.2) scale(1,1.06)" font-size="13.7" font-weight="bold" text-anchor="middle" fill="#000" >12:00AM</text>
<polyline points="449.5,851.2 532.4,787 615.4,911.6" fill="none" stroke="#2D1660" stroke-width="1.8" stroke-linejoin="round"/>
<line x1="449.5" y1="827" x2="449.5" y2="851.2" stroke="#A88BD9" stroke-width="1.8" stroke-linecap="butt"/>
<line x1="444.3" y1="827" x2="454.7" y2="827" stroke="#A88BD9" stroke-width="1.8" stroke-linecap="butt"/>
<line x1="449.5" y1="851.2" x2="449.5" y2="874.8" stroke="#A88BD9" stroke-width="1.8" stroke-linecap="butt"/>
<line x1="444.3" y1="874.8" x2="454.7" y2="874.8" stroke="#A88BD9" stroke-width="1.8" stroke-linecap="butt"/>
<line x1="532.4" y1="779.3" x2="532.4" y2="787" stroke="#A88BD9" stroke-width="1.8" stroke-linecap="butt"/>
<line x1="527.1999999999999" y1="779.3" x2="537.6" y2="779.3" stroke="#A88BD9" stroke-width="1.8" stroke-linecap="butt"/>
<line x1="532.4" y1="787" x2="532.4" y2="794.9" stroke="#A88BD9" stroke-width="1.8" stroke-linecap="butt"/>
<line x1="527.1999999999999" y1="794.9" x2="537.6" y2="794.9" stroke="#A88BD9" stroke-width="1.8" stroke-linecap="butt"/>
<line x1="615.4" y1="895.5" x2="615.4" y2="911.6" stroke="#A88BD9" stroke-width="1.8" stroke-linecap="butt"/>
<line x1="610.1999999999999" y1="895.5" x2="620.6" y2="895.5" stroke="#A88BD9" stroke-width="1.8" stroke-linecap="butt"/>
<line x1="615.4" y1="911.6" x2="615.4" y2="927.6" stroke="#A88BD9" stroke-width="1.8" stroke-linecap="butt"/>
<line x1="610.1999999999999" y1="927.6" x2="620.6" y2="927.6" stroke="#A88BD9" stroke-width="1.8" stroke-linecap="butt"/>
<circle cx="449.5" cy="851.2" r="4.6" fill="#2D1660"/>
<circle cx="532.4" cy="787" r="4.6" fill="#2D1660"/>
<circle cx="615.4" cy="911.6" r="4.6" fill="#2D1660"/>
<polyline points="449.5,803.9 532.4,818.5 615.4,790.2" fill="none" stroke="#1F40E8" stroke-width="1.8" stroke-linejoin="round"/>
<line x1="449.5" y1="794.3" x2="449.5" y2="803.9" stroke="#1AC8F6" stroke-width="1.8" stroke-linecap="butt"/>
<line x1="444.3" y1="794.3" x2="454.7" y2="794.3" stroke="#1AC8F6" stroke-width="1.8" stroke-linecap="butt"/>
<line x1="449.5" y1="803.9" x2="449.5" y2="813.6" stroke="#1AC8F6" stroke-width="1.8" stroke-linecap="butt"/>
<line x1="444.3" y1="813.6" x2="454.7" y2="813.6" stroke="#1AC8F6" stroke-width="1.8" stroke-linecap="butt"/>
<line x1="532.4" y1="802.2" x2="532.4" y2="818.5" stroke="#1AC8F6" stroke-width="1.8" stroke-linecap="butt"/>
<line x1="527.1999999999999" y1="802.2" x2="537.6" y2="802.2" stroke="#1AC8F6" stroke-width="1.8" stroke-linecap="butt"/>
<line x1="532.4" y1="818.5" x2="532.4" y2="835.9" stroke="#1AC8F6" stroke-width="1.8" stroke-linecap="butt"/>
<line x1="527.1999999999999" y1="835.9" x2="537.6" y2="835.9" stroke="#1AC8F6" stroke-width="1.8" stroke-linecap="butt"/>
<rect x="445.0" y="799.4" width="9.0" height="9.0" fill="none" stroke="#1AC8F6" stroke-width="1.9"/>
<rect x="527.9" y="814.0" width="9.0" height="9.0" fill="none" stroke="#1AC8F6" stroke-width="1.9"/>
<rect x="610.9" y="785.7" width="9.0" height="9.0" fill="none" stroke="#1AC8F6" stroke-width="1.9"/>
<polyline points="449.5,818 532.4,829 615.4,858.5" fill="none" stroke="#12686F" stroke-width="2" stroke-linejoin="round"/>
<line x1="449.5" y1="800.6" x2="449.5" y2="818" stroke="#3E9494" stroke-width="1.3" stroke-linecap="butt"/>
<line x1="444.3" y1="800.6" x2="454.7" y2="800.6" stroke="#3E9494" stroke-width="1.3" stroke-linecap="butt"/>
<line x1="449.5" y1="818" x2="449.5" y2="834" stroke="#3E9494" stroke-width="1.3" stroke-linecap="butt"/>
<line x1="444.3" y1="834" x2="454.7" y2="834" stroke="#3E9494" stroke-width="1.3" stroke-linecap="butt"/>
<line x1="532.4" y1="810.4" x2="532.4" y2="829" stroke="#3E9494" stroke-width="1.3" stroke-linecap="butt"/>
<line x1="527.1999999999999" y1="810.4" x2="537.6" y2="810.4" stroke="#3E9494" stroke-width="1.3" stroke-linecap="butt"/>
<line x1="532.4" y1="829" x2="532.4" y2="846.5" stroke="#3E9494" stroke-width="1.3" stroke-linecap="butt"/>
<line x1="527.1999999999999" y1="846.5" x2="537.6" y2="846.5" stroke="#3E9494" stroke-width="1.3" stroke-linecap="butt"/>
<line x1="615.4" y1="838.6" x2="615.4" y2="858.5" stroke="#3E9494" stroke-width="1.3" stroke-linecap="butt"/>
<line x1="610.1999999999999" y1="838.6" x2="620.6" y2="838.6" stroke="#3E9494" stroke-width="1.3" stroke-linecap="butt"/>
<line x1="615.4" y1="858.5" x2="615.4" y2="878.4" stroke="#3E9494" stroke-width="1.3" stroke-linecap="butt"/>
<line x1="610.1999999999999" y1="878.4" x2="620.6" y2="878.4" stroke="#3E9494" stroke-width="1.3" stroke-linecap="butt"/>
<polygon points="449.5,813.0 444.5,822.6 454.5,822.6" fill="none" stroke="#6EC6C6" stroke-width="1.8" stroke-linejoin="miter"/>
<polygon points="532.4,824.0 527.4,833.6 537.4,833.6" fill="none" stroke="#6EC6C6" stroke-width="1.8" stroke-linejoin="miter"/>
<polygon points="615.4,853.5 610.4,863.1 620.4,863.1" fill="none" stroke="#6EC6C6" stroke-width="1.8" stroke-linejoin="miter"/>
<text transform="translate(589.4,775.8) scale(1,1.06)" font-size="16.9" font-weight="normal" text-anchor="start" fill="#000" >a****, c*</text>
<line x1="394.5" y1="1093" x2="394.5" y2="1240.8" stroke="#000" stroke-width="2" stroke-linecap="butt"/>
<line x1="386.5" y1="1239.8" x2="394.5" y2="1239.8" stroke="#000" stroke-width="2" stroke-linecap="butt"/>
<text class="b" transform="translate(383.4,1244.7) scale(1,1.06)" font-size="13.5" font-weight="bold" text-anchor="end" fill="#000" >0</text>
<line x1="386.5" y1="1191.3" x2="394.5" y2="1191.3" stroke="#000" stroke-width="2" stroke-linecap="butt"/>
<text class="b" transform="translate(383.4,1196.2) scale(1,1.06)" font-size="13.5" font-weight="bold" text-anchor="end" fill="#000" >10</text>
<line x1="386.5" y1="1142.8" x2="394.5" y2="1142.8" stroke="#000" stroke-width="2" stroke-linecap="butt"/>
<text class="b" transform="translate(383.4,1147.7) scale(1,1.06)" font-size="13.5" font-weight="bold" text-anchor="end" fill="#000" >20</text>
<line x1="393.5" y1="1239.8" x2="662.3" y2="1239.8" stroke="#000" stroke-width="2" stroke-linecap="butt"/>
<line x1="447.9" y1="1239.8" x2="447.9" y2="1247.8" stroke="#000" stroke-width="2" stroke-linecap="butt"/>
<line x1="528.3" y1="1239.8" x2="528.3" y2="1247.8" stroke="#000" stroke-width="2" stroke-linecap="butt"/>
<line x1="608.6" y1="1239.8" x2="608.6" y2="1247.8" stroke="#000" stroke-width="2" stroke-linecap="butt"/>
<text class="b" transform="translate(448.2,1262.4) scale(1,1.06)" font-size="13.4" font-weight="bold" text-anchor="middle" fill="#000" >8:00AM-</text>
<text class="b" transform="translate(448.2,1277.8) scale(1,1.06)" font-size="13.4" font-weight="bold" text-anchor="middle" fill="#000" >9:00AM</text>
<text class="b" transform="translate(528.5999999999999,1262.4) scale(1,1.06)" font-size="13.4" font-weight="bold" text-anchor="middle" fill="#000" >12:00PM-</text>
<text class="b" transform="translate(528.5999999999999,1277.8) scale(1,1.06)" font-size="13.4" font-weight="bold" text-anchor="middle" fill="#000" >1:00PM</text>
<text class="b" transform="translate(608.9,1262.4) scale(1,1.06)" font-size="13.4" font-weight="bold" text-anchor="middle" fill="#000" >11:00PM -</text>
<text class="b" transform="translate(608.9,1277.8) scale(1,1.06)" font-size="13.4" font-weight="bold" text-anchor="middle" fill="#000" >12:00AM</text>
<polyline points="447.9,1228.8 528.3,1236 608.6,1222.9" fill="none" stroke="#2D1660" stroke-width="1.8" stroke-linejoin="round"/>
<line x1="608.6" y1="1215.9" x2="608.6" y2="1222.9" stroke="#A88BD9" stroke-width="1.8" stroke-linecap="butt"/>
<line x1="603.4" y1="1215.9" x2="613.8000000000001" y2="1215.9" stroke="#A88BD9" stroke-width="1.8" stroke-linecap="butt"/>
<circle cx="447.9" cy="1228.8" r="4.6" fill="#2D1660"/>
<circle cx="528.3" cy="1236" r="4.6" fill="#2D1660"/>
<circle cx="608.6" cy="1222.9" r="4.6" fill="#2D1660"/>
<polyline points="447.9,1233.3 528.3,1231.7 608.6,1238.5" fill="none" stroke="#1F40E8" stroke-width="1.8" stroke-linejoin="round"/>
<line x1="447.9" y1="1228.8" x2="447.9" y2="1233.3" stroke="#1AC8F6" stroke-width="1.8" stroke-linecap="butt"/>
<line x1="442.7" y1="1228.8" x2="453.09999999999997" y2="1228.8" stroke="#1AC8F6" stroke-width="1.8" stroke-linecap="butt"/>
<line x1="447.9" y1="1233.3" x2="447.9" y2="1237.8" stroke="#1AC8F6" stroke-width="1.8" stroke-linecap="butt"/>
<line x1="442.7" y1="1237.8" x2="453.09999999999997" y2="1237.8" stroke="#1AC8F6" stroke-width="1.8" stroke-linecap="butt"/>
<line x1="528.3" y1="1226.8" x2="528.3" y2="1231.7" stroke="#1AC8F6" stroke-width="1.8" stroke-linecap="butt"/>
<line x1="523.0999999999999" y1="1226.8" x2="533.5" y2="1226.8" stroke="#1AC8F6" stroke-width="1.8" stroke-linecap="butt"/>
<line x1="528.3" y1="1231.7" x2="528.3" y2="1236.6" stroke="#1AC8F6" stroke-width="1.8" stroke-linecap="butt"/>
<line x1="523.0999999999999" y1="1236.6" x2="533.5" y2="1236.6" stroke="#1AC8F6" stroke-width="1.8" stroke-linecap="butt"/>
<line x1="608.6" y1="1238.2" x2="608.6" y2="1238.5" stroke="#1AC8F6" stroke-width="1.8" stroke-linecap="butt"/>
<line x1="603.4" y1="1238.2" x2="613.8000000000001" y2="1238.2" stroke="#1AC8F6" stroke-width="1.8" stroke-linecap="butt"/>
<rect x="443.4" y="1228.8" width="9.0" height="9.0" fill="none" stroke="#1AC8F6" stroke-width="1.9"/>
<rect x="523.8" y="1227.2" width="9.0" height="9.0" fill="none" stroke="#1AC8F6" stroke-width="1.9"/>
<rect x="604.1" y="1234.0" width="9.0" height="9.0" fill="none" stroke="#1AC8F6" stroke-width="1.9"/>
<polyline points="447.9,1210.5 528.3,1176.7 608.6,1225" fill="none" stroke="#12686F" stroke-width="2" stroke-linejoin="round"/>
<line x1="447.9" y1="1195" x2="447.9" y2="1210.5" stroke="#3E9494" stroke-width="1.3" stroke-linecap="butt"/>
<line x1="442.7" y1="1195" x2="453.09999999999997" y2="1195" stroke="#3E9494" stroke-width="1.3" stroke-linecap="butt"/>
<line x1="447.9" y1="1210.5" x2="447.9" y2="1225.6" stroke="#3E9494" stroke-width="1.3" stroke-linecap="butt"/>
<line x1="442.7" y1="1225.6" x2="453.09999999999997" y2="1225.6" stroke="#3E9494" stroke-width="1.3" stroke-linecap="butt"/>
<line x1="528.3" y1="1138.3" x2="528.3" y2="1176.7" stroke="#3E9494" stroke-width="1.3" stroke-linecap="butt"/>
<line x1="523.0999999999999" y1="1138.3" x2="533.5" y2="1138.3" stroke="#3E9494" stroke-width="1.3" stroke-linecap="butt"/>
<line x1="528.3" y1="1176.7" x2="528.3" y2="1214.4" stroke="#3E9494" stroke-width="1.3" stroke-linecap="butt"/>
<line x1="523.0999999999999" y1="1214.4" x2="533.5" y2="1214.4" stroke="#3E9494" stroke-width="1.3" stroke-linecap="butt"/>
<line x1="608.6" y1="1218.5" x2="608.6" y2="1225" stroke="#3E9494" stroke-width="1.3" stroke-linecap="butt"/>
<line x1="603.4" y1="1218.5" x2="613.8000000000001" y2="1218.5" stroke="#3E9494" stroke-width="1.3" stroke-linecap="butt"/>
<line x1="608.6" y1="1225" x2="608.6" y2="1232.6" stroke="#3E9494" stroke-width="1.3" stroke-linecap="butt"/>
<line x1="603.4" y1="1232.6" x2="613.8000000000001" y2="1232.6" stroke="#3E9494" stroke-width="1.3" stroke-linecap="butt"/>
<polygon points="447.9,1205.5 442.9,1215.1 452.9,1215.1" fill="none" stroke="#6EC6C6" stroke-width="1.8" stroke-linejoin="miter"/>
<polygon points="528.3,1171.7 523.3,1181.3 533.3,1181.3" fill="none" stroke="#6EC6C6" stroke-width="1.8" stroke-linejoin="miter"/>
<polygon points="608.6,1220.0 603.6,1229.6 613.6,1229.6" fill="none" stroke="#6EC6C6" stroke-width="1.8" stroke-linejoin="miter"/>
<line x1="394.5" y1="1061.6" x2="394.5" y2="1077" stroke="#000" stroke-width="2" stroke-linecap="butt"/>
<line x1="386.5" y1="1062.6" x2="395.5" y2="1062.6" stroke="#000" stroke-width="2" stroke-linecap="butt"/>
<text class="b" transform="translate(383.4,1067.4) scale(1,1.06)" font-size="13.5" font-weight="bold" text-anchor="end" fill="#000" >100</text>
<text class="b" transform="translate(383.4,1099.2) scale(1,1.06)" font-size="13.5" font-weight="bold" text-anchor="end" fill="#000" >30</text>
<line x1="389.7" y1="1073.9" x2="399.5" y2="1083.2" stroke="#000" stroke-width="2" stroke-linecap="butt"/>
<line x1="389.7" y1="1089" x2="399.5" y2="1098.2" stroke="#000" stroke-width="2" stroke-linecap="butt"/>
<text transform="translate(509,1125.5) scale(1,1.06)" font-size="16.5" font-weight="normal" text-anchor="start" fill="#000" >b**, c*</text>
</svg></body></html>
